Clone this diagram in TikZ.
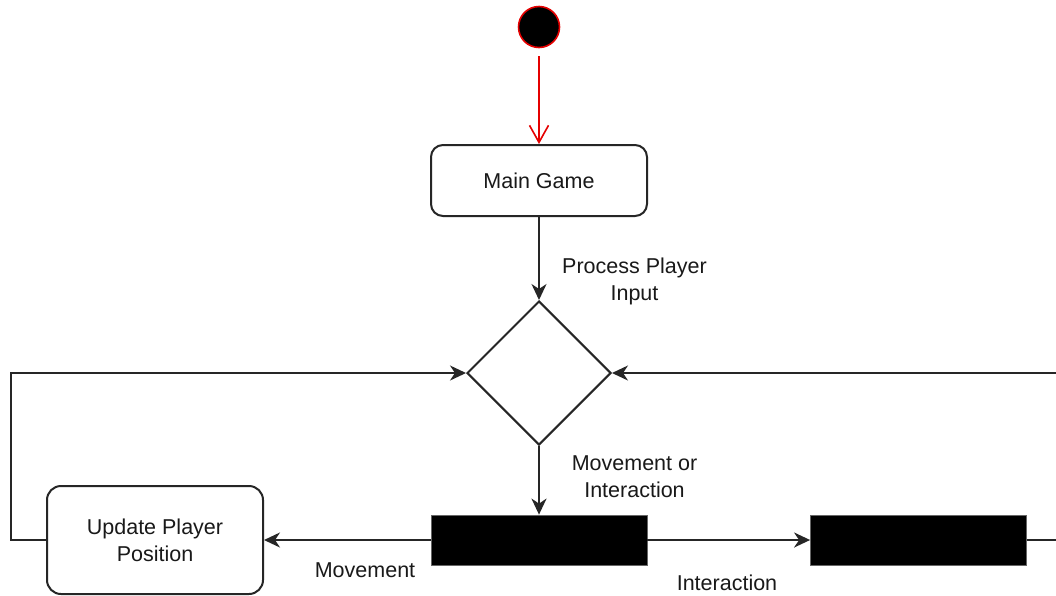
\documentclass[tikz,border=0pt]{standalone}
\usepackage{fontspec}
\setmainfont{Liberation Sans}
\usetikzlibrary{arrows.meta,shapes.geometric}
\begin{document}
\begin{tikzpicture}[x=1pt,y=-1pt,
  txt/.style={font=\fontsize{21.5}{27}\selectfont, text=black!90, align=center},
  stateb/.style={draw=black!85, line width=2pt, rounded corners=12pt, fill=white, txt, inner sep=0pt},
  barb/.style={fill=black, draw=black!60, line width=0.8pt, minimum width=216pt, minimum height=50pt, inner sep=0pt},
  conn/.style={draw=black!85, line width=2pt, -{Stealth[length=16pt,width=15pt,inset=5pt]}},
  line/.style={draw=black!85, line width=2pt}
]
\useasboundingbox (0,0) rectangle (1056,595);
\clip (0,0) rectangle (1056,595);
\fill[white] (0,0) rectangle (1056,595);

\node[circle, fill=black, draw=red!90!black, line width=1.6pt, minimum size=41pt, inner sep=0pt] (start) at (539,27) {};
\node[stateb, minimum width=216pt, minimum height=71pt] (main) at (539,180.5) {Main Game};
\node[diamond, draw=black!85, line width=2pt, fill=white, minimum width=144pt, minimum height=144pt, inner sep=0pt] (dec) at (539,373) {};
\node[barb] (bar1) at (539,540) {};
\node[barb] (bar2) at (918.5,540) {};
\node[stateb, minimum width=216pt, minimum height=108pt, rounded corners=14pt] (upd) at (155,540) {Update Player\\Position};

\coordinate (ll) at (11,540);
\coordinate (rr) at (1080,540);

\draw[red!90!black, line width=1.6pt, -{Straight Barb[length=17pt,width=19pt]}] ([yshift=-8pt]start.south) -- (main.north);
\draw[conn] (main.south) -- (dec.north);
\draw[conn] (dec.south) -- (bar1.north);
\draw[conn] (bar1.west) -- (upd.east);
\draw[conn] (bar1.east) -- (bar2.west);
\draw[conn] (upd.west) -- (ll) |- (dec.west);
\draw[conn] (bar2.east) -- (rr) |- (dec.east);

\node[txt] (l1) at (634.5,281.5) {Process Player\\Input};
\node[txt] (l2) at (634.5,476.5) {Movement or\\Interaction};
\node[txt] (l3) at (365,570) {Movement};
\node[txt] (l4) at (727,583) {Interaction};
\end{tikzpicture}
\end{document}
